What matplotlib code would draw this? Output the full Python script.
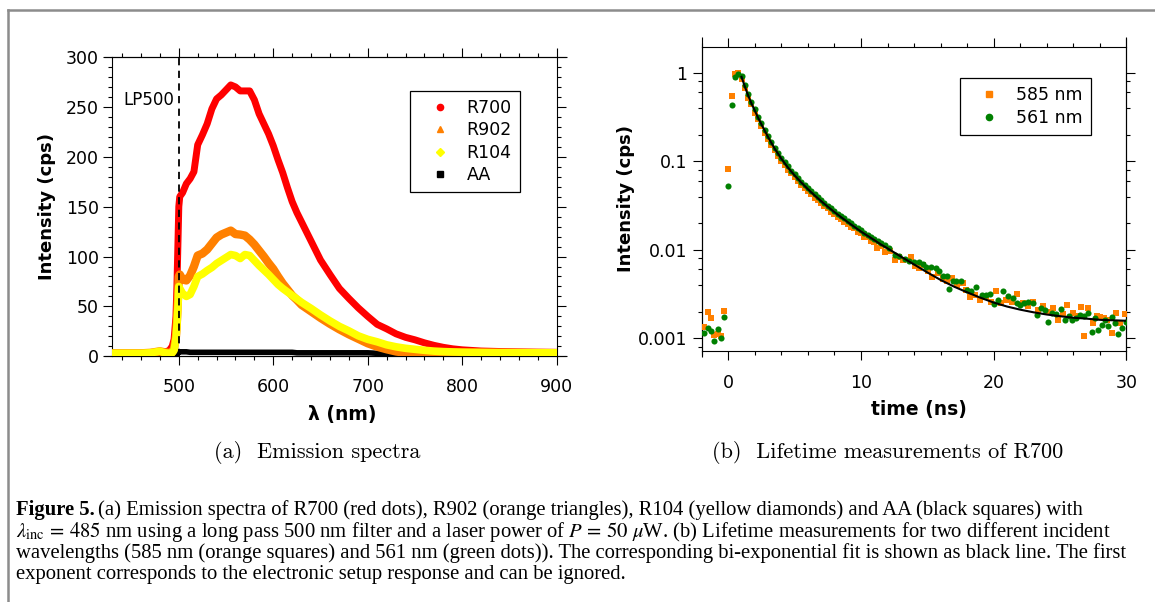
import matplotlib
matplotlib.use('Agg')
import matplotlib.pyplot as plt
import numpy as np
from matplotlib.lines import Line2D
from matplotlib.ticker import MultipleLocator, LogLocator, FixedLocator, FixedFormatter, NullFormatter

# ---- (a) emission spectra ----
wavelength = [430, 440, 450, 460, 470, 480, 485, 490, 493, 495, 497, 498, 499, 500, 501, 504,
              508, 512, 516, 520, 525, 530, 535, 540, 545, 550, 555, 560, 565, 570, 575, 580,
              585, 590, 595, 600, 605, 610, 615, 620, 625, 630, 640, 650, 660, 670, 680, 690,
              700, 710, 720, 730, 740, 750, 760, 770, 780, 790, 800, 820, 840, 860, 880, 900]
r700 = [3, 3, 3, 3, 3, 4, 4, 6, 10, 17, 40, 70, 110, 150, 160, 164,
        173, 178, 185, 212, 222, 233, 248, 258, 262, 267, 272, 270, 266, 266, 266, 257,
        243, 233, 223, 211, 197, 184, 169, 155, 144, 134.5, 115.5, 96.5, 82, 68, 58, 48.5,
        40, 32, 27.5, 22.5, 19, 16.5, 13.5, 11, 9, 7.5, 6.5, 5.3, 4.8, 4.5, 4.2, 4]
r902 = [3, 3, 3, 3, 3.5, 5, 4, 3.5, 4, 8, 20, 35, 55, 80, 82, 77,
        76, 81, 90, 101, 103, 107, 113, 119, 122, 124, 126, 122.5, 122, 121, 117, 112,
        106, 100, 93.5, 87.5, 80, 73, 67, 61, 56.5, 51.5, 45, 38.5, 32.5, 27, 22, 17.5,
        13, 9.6, 7, 4.8, 3.5, 2.7, 2.3, 2, 2, 2, 2, 2, 2, 2, 2, 2]
r104 = [3, 3, 3, 3, 3.5, 5, 3.5, 3, 3.5, 6, 18, 30, 48, 70, 68, 63,
        60, 62, 70, 80, 82.5, 86, 89, 93, 96, 99, 102, 101, 98, 102, 101, 96,
        91, 86.5, 82, 77, 72, 68, 64.5, 61, 57.5, 54, 48, 41.5, 35.5, 30, 25.5, 20.5,
        17, 14.5, 11.5, 9.5, 8, 7, 6, 5.2, 4.7, 4.4, 4.2, 4, 3.8, 3.7, 3.6, 3.5]
aa = [3, 3, 3, 3, 3, 3, 3, 3, 3, 3, 3, 3, 3, 4.5, 4.5, 4.5,
      4.5, 4, 4, 4, 4, 4, 4, 4, 4, 4, 4, 4, 4, 4, 4, 4,
      4, 4, 4, 4, 4, 4, 4, 4, 3.5, 3.5, 3.5, 3.5, 3.5, 3.5, 3.5, 3.5,
      3.5, 3, 3, 3, 2.5, 2.5, 2.5, 2.5, 2.5, 2.5, 2.5, 2.5, 2.5, 2.5, 2.5, 2.5]
filter_edge = 500

# ---- (b) lifetime measurements ----
t_pre = [-1.8, -1.55, -1.3, -1.05, -0.8, -0.55, -0.3, -0.05, 0.25, 0.5, 0.75]
t_decay = [1.0, 1.25, 1.5, 1.75, 2.0, 2.25, 2.5, 2.75, 3.0, 3.25, 3.5, 3.75, 4.0, 4.25,
           4.5, 4.75, 5.0, 5.25, 5.5, 5.75, 6.0, 6.25, 6.5, 6.75, 7.0, 7.25, 7.5, 7.75,
           8.0, 8.25, 8.5, 8.75, 9.0, 9.25, 9.5, 9.75, 10.0, 10.25, 10.5, 10.75, 11.0]

i585_pre = [0.00133, 0.0020, 0.00171, 0.00109, 0.00112, 0.00106, 0.00205, 0.082, 0.55, 0.97, 1.0]
i585_decay = [0.84, 0.68, 0.52, 0.44, 0.35, 0.30, 0.25, 0.21, 0.178, 0.153, 0.133, 0.114, 0.101,
              0.091, 0.080, 0.073, 0.066, 0.060, 0.054, 0.0505, 0.0462, 0.0425, 0.0390, 0.0366,
              0.0338, 0.0312, 0.0296, 0.0270, 0.0255, 0.0236, 0.0224, 0.0207, 0.0198, 0.0183,
              0.0176, 0.0160, 0.0153, 0.0141, 0.0139, 0.0127, 0.0124]
t585_tail = [11.2, 11.5, 11.83, 12.2, 12.58, 12.9, 13.2, 13.76, 14.1, 14.4, 14.71, 15.05, 15.34,
             15.84, 16.2, 16.5, 16.85, 17.2, 17.67, 17.95, 18.22, 18.6, 18.98, 19.4, 19.8, 20.18,
             20.55, 20.94, 21.35, 21.74, 22.24, 22.6, 22.99, 23.35, 23.75, 24.1, 24.45, 24.87,
             25.2, 25.55, 26.0, 26.3, 26.55, 26.8, 27.13, 27.45, 27.75, 28.0, 28.3, 28.56, 28.9,
             29.2, 29.55, 29.9]
i585_tail = [0.0104, 0.0110, 0.0095, 0.0096, 0.00766, 0.0083, 0.0076, 0.00835, 0.0066, 0.0062,
             0.00673, 0.0058, 0.00497, 0.00542, 0.0047, 0.0045, 0.00476, 0.0040, 0.00424, 0.0035,
             0.00295, 0.0031, 0.0027, 0.0029, 0.0026, 0.00342, 0.0025, 0.0027, 0.0026, 0.00316,
             0.00248, 0.0023, 0.00259, 0.0021, 0.00231, 0.0020, 0.00218, 0.00161, 0.0019, 0.00238,
             0.00195, 0.0018, 0.00227, 0.00107, 0.00218, 0.00148, 0.0018, 0.00175, 0.0017, 0.00161,
             0.00116, 0.00191, 0.0015, 0.00188]

i561_pre = [0.00114, 0.0013, 0.00122, 0.00094, 0.00128, 0.00102, 0.00173, 0.053, 0.43, 0.90, 0.98]
i561_decay = [0.92, 0.72, 0.57, 0.47, 0.385, 0.32, 0.27, 0.228, 0.193, 0.166, 0.143, 0.125, 0.110,
              0.098, 0.0875, 0.0785, 0.0710, 0.0650, 0.0590, 0.0545, 0.0500, 0.0460, 0.0425, 0.0392,
              0.0365, 0.0338, 0.0315, 0.0295, 0.0275, 0.0256, 0.0240, 0.0226, 0.0212, 0.0200,
              0.0187, 0.0176, 0.0166, 0.0156, 0.0148, 0.0140, 0.0132]
t561_tail = [11.25, 11.49, 11.8, 12.1, 12.55, 12.9, 13.3, 13.65, 14.0, 14.4, 14.65, 14.9, 15.25,
             15.65, 15.9, 16.2, 16.48, 16.67, 16.9, 17.17, 17.5, 17.99, 18.3, 18.68, 19.1, 19.4,
             19.73, 20.03, 20.35, 20.73, 21.1, 21.44, 21.74, 22.0, 22.29, 22.6, 22.99, 23.25,
             23.55, 23.85, 24.13, 24.38, 24.7, 25.05, 25.4, 25.65, 25.9, 26.2, 26.5, 26.8, 27.13,
             27.38, 27.6, 27.88, 28.13, 28.4, 28.63, 28.9, 29.15, 29.4, 29.65, 30.0]
i561_tail = [0.0126, 0.0120, 0.0112, 0.0104, 0.00873, 0.0086, 0.0079, 0.00752, 0.0073, 0.00733,
             0.0070, 0.00632, 0.0064, 0.00617, 0.0058, 0.0051, 0.00506, 0.00357, 0.0045, 0.00447,
             0.0044, 0.00351, 0.0034, 0.00377, 0.0031, 0.0031, 0.00316, 0.00244, 0.0027, 0.00345,
             0.0030, 0.00283, 0.00248, 0.0024, 0.00253, 0.0026, 0.00248, 0.00183, 0.00218, 0.0021,
             0.00154, 0.00195, 0.0019, 0.00212, 0.00161, 0.0018, 0.00161, 0.0017, 0.00183, 0.0018,
             0.00191, 0.00119, 0.0017, 0.00124, 0.00141, 0.0016, 0.00137, 0.00175, 0.0015, 0.00112,
             0.0013, 0.00154]

t_fit = [1.0, 1.25, 1.5, 1.75, 2.0, 2.25, 2.5, 3.0, 3.5, 4.0, 4.5, 5.0, 5.5, 6.0, 6.5, 7.0, 7.5,
         8.0, 8.5, 9.0, 9.5, 10.0, 10.5, 11.0, 11.5, 12.0, 13, 14, 15, 16, 17, 18, 19, 20, 21,
         22, 23, 24, 25, 26, 27, 28, 29, 30]
i_fit = [0.90, 0.70, 0.555, 0.45, 0.375, 0.31, 0.262, 0.188, 0.139, 0.107, 0.0849, 0.0693, 0.0577,
         0.0485, 0.0413, 0.0355, 0.0307, 0.0267, 0.0234, 0.0206, 0.0182, 0.0161, 0.0144, 0.0129,
         0.0115, 0.0104, 0.0084, 0.00684, 0.00556, 0.00457, 0.00385, 0.00331, 0.00288, 0.00254,
         0.00229, 0.00211, 0.00197, 0.00186, 0.00178, 0.00171, 0.00167, 0.00162, 0.0016, 0.00158]

t585 = t_pre + t_decay + t585_tail
i585 = i585_pre + i585_decay + i585_tail
t561 = t_pre + t_decay + t561_tail
i561 = i561_pre + i561_decay + i561_tail

RED, ORANGE, YELLOW, GREEN = '#ff0000', '#ff8000', '#ffff00', '#008000'
W, H = 1155, 602

plt.rcParams['font.family'] = 'DejaVu Sans'
plt.rcParams['mathtext.fontset'] = 'stix'

fig = plt.figure(figsize=(W / 100, H / 100), dpi=100)
ax1 = fig.add_axes([112.2 / W, 1 - 356.3 / H, 444.5 / W, 299.3 / H])
ax2 = fig.add_axes([701.7 / W, 1 - 351 / H, 424.7 / W, 304.3 / H])

# ---- panel (a) ----
ax1.plot(wavelength, aa, color='black', lw=4, solid_joinstyle='round', zorder=2)
ax1.plot(wavelength, r700, color=RED, lw=5, solid_joinstyle='round', zorder=3)
ax1.plot(wavelength, r902, color=ORANGE, lw=6, solid_joinstyle='round', zorder=4)
ax1.plot(wavelength, r104, color=YELLOW, lw=5.5, solid_joinstyle='round', zorder=5)
ax1.axvline(filter_edge, color='black', lw=1.3, ls=(0, (4, 3)), zorder=6)
ax1.text(441, 257, 'LP500', fontsize=12, ha='left', va='center')

ax1.set_xlim(429.5, 900)
ax1.set_ylim(0, 300)
ax1.xaxis.set_major_locator(MultipleLocator(100))
ax1.xaxis.set_minor_locator(MultipleLocator(20))
ax1.yaxis.set_major_locator(MultipleLocator(50))
ax1.yaxis.set_minor_locator(MultipleLocator(10))
ax1.set_xlabel('λ (nm)', fontsize=13.5, fontweight='bold')
ax1.set_ylabel('Intensity (cps)', fontsize=13, fontweight='bold')
ax1.xaxis.set_label_coords(0.518, -0.163)
ax1.yaxis.set_label_coords(-0.127, 0.5)

h1 = [Line2D([], [], ls='none', marker='o', ms=4.5, color=RED),
      Line2D([], [], ls='none', marker='^', ms=5, color=ORANGE),
      Line2D([], [], ls='none', marker='D', ms=4, color=YELLOW),
      Line2D([], [], ls='none', marker='s', ms=4.5, color='black')]
leg1 = ax1.legend(h1, ['R700', 'R902', 'R104', 'AA'], loc='upper left', bbox_to_anchor=(0.67, 0.886),
                  fontsize=12.5, frameon=True, fancybox=False, edgecolor='black', framealpha=1,
                  handlelength=2.5, handletextpad=0.3, labelspacing=0.25, borderpad=0.45,
                  borderaxespad=0)
leg1.get_frame().set_linewidth(0.9)

# ---- panel (b) ----
ax2.plot(t585, i585, ls='none', marker='s', ms=4.6, color=ORANGE, mew=0, zorder=3)
ax2.plot(t561, i561, ls='none', marker='o', ms=4.4, color=GREEN, mew=0, zorder=4)
ax2.plot(t_fit, i_fit, color='black', lw=1.5, zorder=5)

ax2.set_yscale('log')
ax2.set_xlim(-2, 30)
ax2.set_ylim(7.2e-4, 1.97)
ax2.xaxis.set_major_locator(MultipleLocator(10))
ax2.xaxis.set_minor_locator(MultipleLocator(2))
ax2.yaxis.set_major_locator(FixedLocator([0.001, 0.01, 0.1, 1]))
ax2.yaxis.set_major_formatter(FixedFormatter(['0.001', '0.01', '0.1', '1']))
ax2.yaxis.set_minor_locator(LogLocator(base=10, subs=(2, 4, 6, 8)))
ax2.yaxis.set_minor_formatter(NullFormatter())
ax2.set_xlabel('time (ns)', fontsize=13.5, fontweight='bold')
ax2.set_ylabel('Intensity (cps)', fontsize=13, fontweight='bold')
ax2.xaxis.set_label_coords(0.512, -0.161)
ax2.yaxis.set_label_coords(-0.157, 0.5)

h2 = [Line2D([], [], ls='none', marker='s', ms=5, color=ORANGE),
      Line2D([], [], ls='none', marker='o', ms=4.5, color=GREEN)]
leg2 = ax2.legend(h2, ['585 nm', '561 nm'], loc='upper left', bbox_to_anchor=(0.608, 0.897),
                  fontsize=12.5, frameon=True, fancybox=False, edgecolor='black', framealpha=1,
                  handlelength=2.4, handletextpad=0.4, labelspacing=0.3, borderpad=0.45,
                  borderaxespad=0)
leg2.get_frame().set_linewidth(0.9)

for ax in (ax1, ax2):
    ax.tick_params(which='both', direction='out', top=True, right=True, width=0.8,
                   labelsize=12.5, colors='black')
    ax.tick_params(which='major', length=6.5)
    ax.tick_params(which='minor', length=3.2)
    ax.tick_params(axis='y', pad=3)
    for s in ax.spines.values():
        s.set_linewidth(0.8)
ax1.tick_params(axis='x', pad=9)
ax2.tick_params(axis='x', pad=10)
ax2.tick_params(axis='y', pad=4)

# axis lines running past the corners, as in the original
ext = dict(color='black', lw=0.8, clip_on=False, solid_capstyle='butt')
ax1.plot([-8.5 / 444.5, 1 + 10 / 444.5], [0, 0], transform=ax1.transAxes, **ext)
ax1.plot([-8.5 / 444.5, 1 + 10 / 444.5], [1, 1], transform=ax1.transAxes, **ext)
ax2.plot([0, 0], [-5.7 / 304.3, 1 + 9.3 / 304.3], transform=ax2.transAxes, **ext)
ax2.plot([1, 1], [-9 / 304.3, 1 + 9.3 / 304.3], transform=ax2.transAxes, **ext)

# sub-captions
fig.text(317.6 / W, 1 - 452 / H, '(a)  Emission spectra', family='cmr10', fontsize=16,
         ha='center', va='center')
fig.text(888 / W, 1 - 452 / H, '(b)  Lifetime measurements of R700', family='cmr10', fontsize=16,
         ha='center', va='center')

# figure caption
cap_size = 14.85
x0 = 16 / W
lines = [
    '(a) Emission spectra of R700 (red dots), R902 (orange triangles), R104 (yellow diamonds) and AA (black squares) with',
    r'$\lambda_{\mathrm{inc}}\,=\,485$ nm using a long pass 500 nm filter and a laser power of $P\,=\,50\ \mu$W. (b) Lifetime measurements for two different incident',
    'wavelengths (585 nm (orange squares) and 561 nm (green dots)). The corresponding bi-exponential fit is shown as black line. The first',
    'exponent corresponds to the electronic setup response and can be ignored.',
]
base_y = [515, 537, 558, 579]
head = fig.text(x0, 1 - base_y[0] / H, 'Figure 5.', family='Liberation Serif', fontweight='bold',
                fontsize=cap_size, va='baseline', ha='left')
fig.canvas.draw()
bb = head.get_window_extent(fig.canvas.get_renderer())
fig.text(bb.x1 / W + 3 / W, 1 - base_y[0] / H, lines[0], family='Liberation Serif',
         fontsize=cap_size, va='baseline', ha='left')
for txt, yb in zip(lines[1:], base_y[1:]):
    fig.text(x0, 1 - yb / H, txt, family='Liberation Serif', fontsize=cap_size,
             va='baseline', ha='left')

# grey frame lines
fig.add_artist(Line2D([8 / W, 1], [1 - 10 / H, 1 - 10 / H], transform=fig.transFigure,
                      color='#8c8c8c', lw=1.8))
fig.add_artist(Line2D([8 / W, 8 / W], [0, 1 - 10 / H], transform=fig.transFigure,
                      color='#8c8c8c', lw=1.8))

fig.savefig('out.png', dpi=100)
